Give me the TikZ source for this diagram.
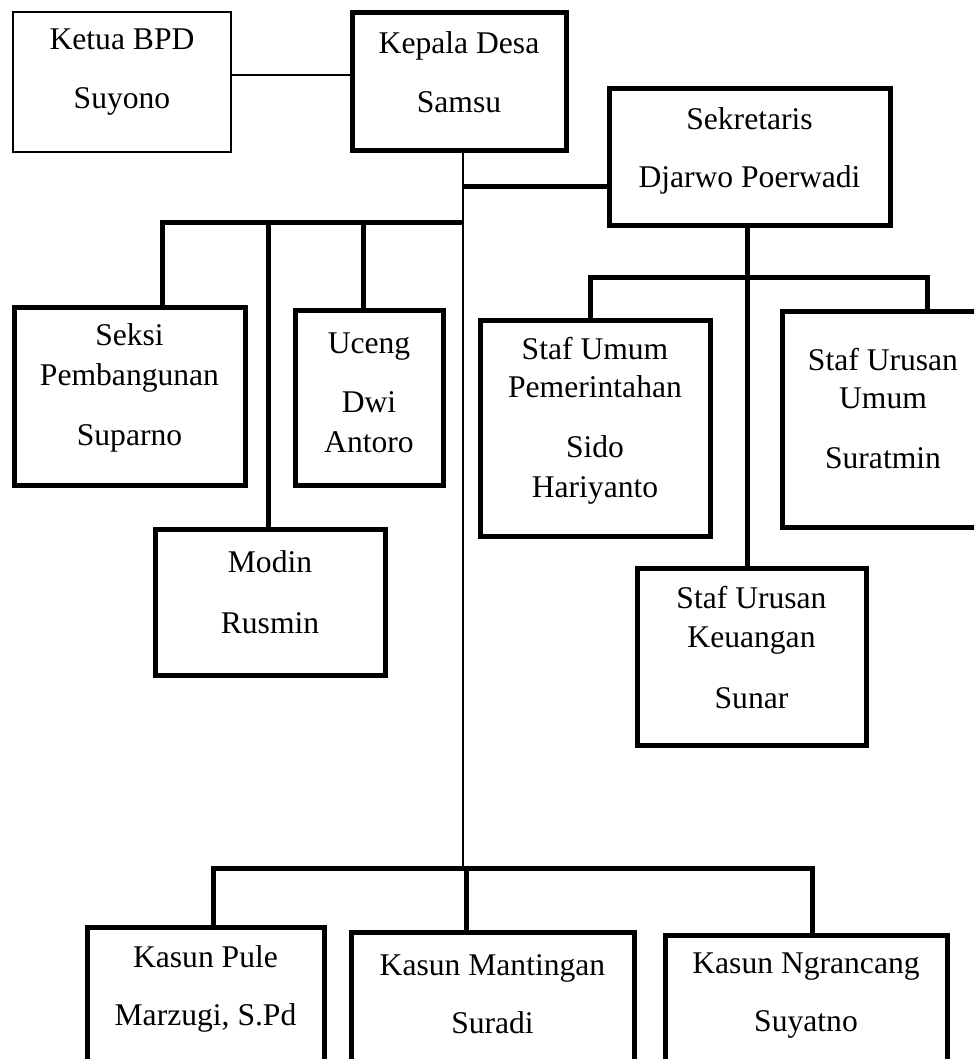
\documentclass[tikz,border=0pt]{standalone}
\usepackage{fontspec}
\setmainfont{Liberation Serif}
\begin{document}
\begin{tikzpicture}[x=1pt,y=-1pt,
  box/.style={draw, line width=5pt, inner sep=0pt},
  thinbox/.style={draw, line width=2pt, inner sep=0pt},
  txt/.style={font=\fontsize{31.6}{38}\selectfont, align=center, inner sep=0pt},
  conn/.style={line width=5pt},
  thinconn/.style={line width=2pt}]
\useasboundingbox (0,0) rectangle (974,1059);
\clip (0,0) rectangle (974,1059);

% boxes
\node[thinbox, minimum width=218pt, minimum height=140pt,
  label={[txt,yshift=9.5pt]center:{Ketua BPD\\[21pt]Suyono}}] (ketua) at (122,82) {};
\node[box, minimum width=214pt, minimum height=138pt,
  label={[txt,yshift=9.5pt]center:{Kepala Desa\\[21pt]Samsu}}] (kepala) at (459,82) {};
\node[box, minimum width=281pt, minimum height=137pt,
  label={[txt,yshift=6.5pt]center:{Sekretaris\\[20pt]Djarwo Poerwadi}}] (sekretaris) at (749.5,157.5) {};
\node[box, minimum width=231pt, minimum height=178pt,
  label={[txt,yshift=8pt]center:{Seksi\\[2pt]Pembangunan\\[22pt]Suparno}}] (seksi) at (129.5,396) {};
\node[box, minimum width=148pt, minimum height=175pt,
  label={[txt,yshift=5pt]center:{Uceng\\[21pt]Dwi\\[2pt]Antoro}}] (uceng) at (369,397.5) {};
\node[box, minimum width=230pt, minimum height=146pt,
  label={[txt,yshift=9.5pt]center:{Modin\\[23pt]Rusmin}}] (modin) at (270,602) {};
\node[box, minimum width=230pt, minimum height=216pt,
  label={[txt,yshift=7pt]center:{Staf Umum\\Pemerintahan\\[22pt]Sido\\[2pt]Hariyanto}}] (stafumum) at (595,428) {};
\node[box, minimum width=202pt, minimum height=216pt,
  label={[txt,yshift=10pt]center:{Staf Urusan\\Umum\\[22pt]Suratmin}}] (urusanumum) at (883,419) {};
\node[box, minimum width=229pt, minimum height=177pt,
  label={[txt,yshift=8.5pt]center:{Staf Urusan\\[1pt]Keuangan\\[23pt]Sunar}}] (keuangan) at (751.5,656.5) {};
\node[box, minimum width=237pt, minimum height=148pt,
  label={[txt,yshift=12pt]center:{Kasun Pule\\[20pt]Marzugi, S.Pd}}] (pule) at (205.5,1001) {};
\node[box, minimum width=283pt, minimum height=143pt,
  label={[txt,yshift=9.5pt]center:{Kasun Mantingan\\[20pt]Suradi}}] (mantingan) at (492.5,1003.5) {};
\node[box, minimum width=282pt, minimum height=140pt,
  label={[txt,yshift=9pt]center:{Kasun Ngrancang\\[20pt]Suyatno}}] (ngrancang) at (806,1005) {};

% junction coordinates
\coordinate (mainv) at (463,866);
\coordinate (sj) at (463,187);
\coordinate (lbL) at (162,223);
\coordinate (lbR) at (463,223);
\coordinate (lb2) at (268,223);
\coordinate (lb3) at (363,223);
\coordinate (sv) at (747,277);
\coordinate (sbL) at (590,277);
\coordinate (sbR) at (927,277);
\coordinate (bL) at (213,868);
\coordinate (bM) at (466,868);
\coordinate (bR) at (812,868);

% connectors
\draw[thinconn] ([yshift=7pt]ketua.east) -- ([yshift=7pt]kepala.west);
\draw[thinconn] (kepala.south -| mainv) -- (mainv);
\draw[conn] (sekretaris.west |- sj) -- (sj);
\draw[conn] (seksi.north -| lbL) -- (lbL) -- (lbR);
\draw[conn] (lb2) -- (modin.north -| lb2);
\draw[conn] (lb3) -- (uceng.north -| lb3);
\draw[conn] (sekretaris.south -| sv) -- (keuangan.north -| sv);
\draw[conn] (stafumum.north -| sbL) -- (sbL) -- (sbR) -- (urusanumum.north -| sbR);
\draw[conn] (pule.north -| bL) -- (bL) -- (bR) -- (ngrancang.north -| bR);
\draw[conn] (bM) -- (mantingan.north -| bM);
\end{tikzpicture}
\end{document}
